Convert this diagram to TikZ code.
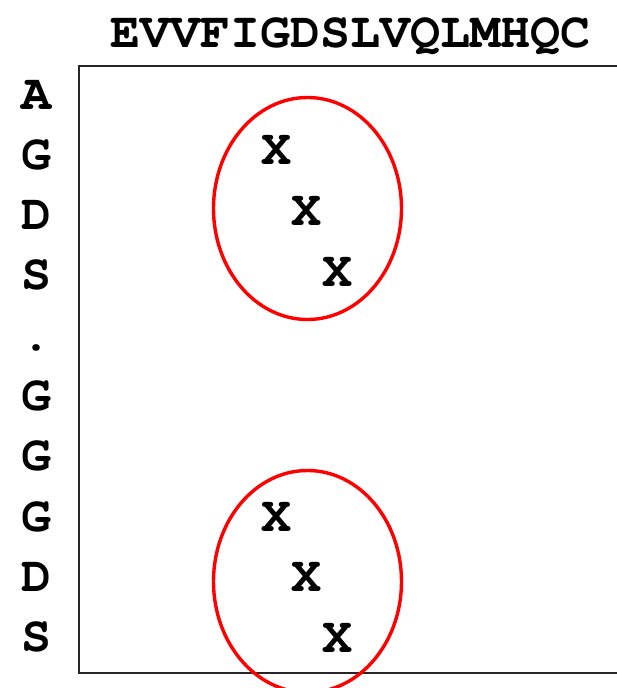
\documentclass[tikz,border=0pt]{standalone}
\usepackage{fontspec}
\setmonofont{TeX Gyre Cursor}
\begin{document}
\begin{tikzpicture}[x=1pt,y=-1pt,
  seq/.style={font=\ttfamily\bfseries\fontsize{50}{60}\selectfont, inner sep=0pt, text=black},
  frame/.style={draw=black!85, line width=1.7pt},
  ring/.style={draw=red, line width=3.4pt}]
\useasboundingbox (0,0) rectangle (617,688);
\clip (0,0) rectangle (617,688);
% top sequence
\node[seq, anchor=base] (top) at (350,47) {EVVFIGDSLVQLMHQC};
% frame
\draw[frame] (625,66) -- (79,66) -- (79,673) -- (625,673);
% row labels
\foreach \t [count=\i from 0] in {A,G,D,S,.,G,G,G,D,S} {
  \node[seq, anchor=base] (r\i) at (36.5, {95+60.3*\i+14}) {\t};
}
% marks
\node[seq] (x1) at (276.5,150) {X};
\node[seq] (x2) at (306.5,211) {X};
\node[seq] (x3) at (337,272) {X};
\node[seq] (x4) at (276.5,517) {X};
\node[seq] (x5) at (306.5,577) {X};
\node[seq] (x6) at (337,638) {X};
% circles
\draw[ring] (307.5,208.5) ellipse [x radius=94, y radius=111];
\draw[ring] (307.5,581.5) ellipse [x radius=94, y radius=111];
\end{tikzpicture}
\end{document}
